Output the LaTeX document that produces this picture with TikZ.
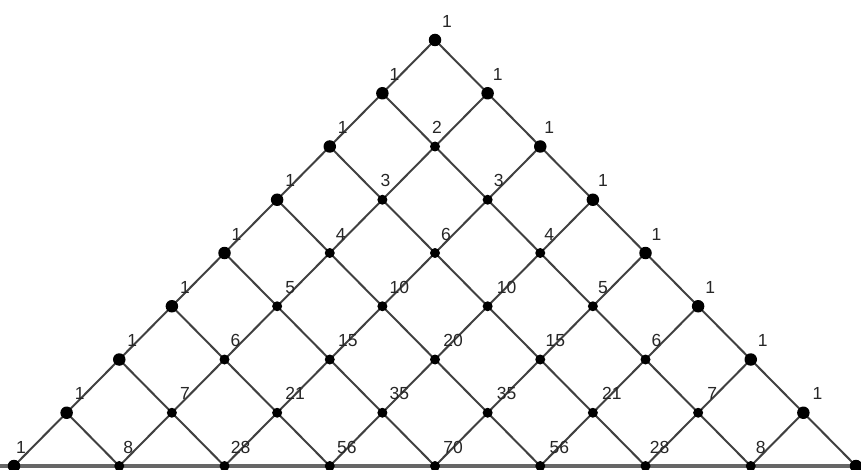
\documentclass[tikz,border=0pt]{standalone}
\usepackage{fontspec}
\setmainfont{Liberation Sans}
\usetikzlibrary{backgrounds}
\begin{document}
\begin{tikzpicture}[x=1pt,y=-1pt,
  edge/.style={draw=black!75, line width=2pt},
  baseline/.style={draw=black!60, line width=3.2pt},
  dot/.style={circle, fill=black, inner sep=0pt, minimum size=10pt},
  bigdot/.style={circle, fill=black, inner sep=0pt, minimum size=12.5pt},
  num/.style={font=\fontsize{17.5}{17.5}\selectfont, text=black!85, inner sep=0pt}]
\useasboundingbox (0,0) rectangle (861,470);
% dots
\foreach \k in {0,...,8}{
  \foreach \j in {0,...,\k}{
    \pgfmathparse{(\j==0 || \j==\k) ? 1 : 0}
    \ifnum\pgfmathresult=1
      \node[bigdot] (n-\k-\j) at ({435+(2*\j-\k)*52.625},{40+\k*53.25}) {};
    \else
      \node[dot] (n-\k-\j) at ({435+(2*\j-\k)*52.625},{40+\k*53.25}) {};
    \fi
  }
}
% edges
\begin{pgfonlayer}{background}
\coordinate (bl) at (0,466);
\coordinate (br) at (861,466);
\draw[baseline] (bl) -- (br);
\foreach \k in {0,...,7}{
  \foreach \j in {0,...,\k}{
    \pgfmathtruncatemacro\kk{\k+1}
    \pgfmathtruncatemacro\jj{\j+1}
    \draw[edge] (n-\k-\j.center) -- (n-\kk-\j.center);
    \draw[edge] (n-\k-\j.center) -- (n-\kk-\jj.center);
  }
}
\end{pgfonlayer}
% labels
\foreach \k/\row in {
  0/{1/12},
  1/{1/12,1/10},
  2/{1/13,2/2,1/9},
  3/{1/13,3/3,3/11,1/10},
  4/{1/12,4/11,6/11,4/9,1/11},
  5/{1/13,5/13,10/17,10/19,5/10,1/12},
  6/{1/13,6/11,15/18,20/18,15/15,6/11,1/12},
  7/{1/13,7/13,21/18,35/17,35/19,21/19,7/14,1/14},
  8/{1/7,8/9,28/16,56/17,70/18,56/19,28/14,8/10}}{
  \foreach \v/\dx [count=\j from 0] in \row{
    \node[num] (l-\k-\j) at ([shift={(\dx,-19)}]n-\k-\j.center) {\v};
  }
}
\end{tikzpicture}
\end{document}
